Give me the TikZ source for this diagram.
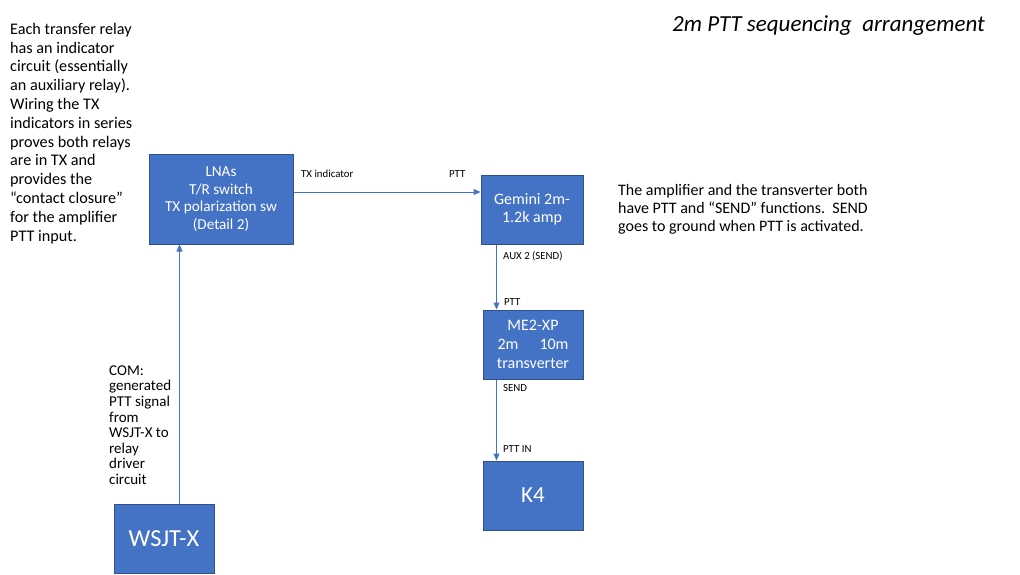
\documentclass[tikz,border=0pt]{standalone}
\usepackage{fontspec}
\setmainfont{Carlito}
\usetikzlibrary{arrows.meta}
\definecolor{boxfill}{HTML}{4472C4}
\definecolor{boxline}{HTML}{2F528F}
\definecolor{wire}{HTML}{4472C4}
\begin{document}
\begin{tikzpicture}[x=1pt,y=-1pt,
  box/.style={draw=boxline, fill=boxfill, line width=1pt, text=white, align=center, inner sep=0pt},
  conn/.style={draw=wire, line width=1pt, -{Triangle[length=7pt,width=6pt]}},
  lbl/.style={anchor=base west, inner sep=0pt, font=\fontsize{10.8}{12}\selectfont},
  note/.style={anchor=north west, inner sep=0pt, align=left}]
\useasboundingbox (0,0) rectangle (1020,574);
\fill[white] (0,0) rectangle (1020,574);

% boxes
\node[box, minimum width=144pt, minimum height=90pt, font=\fontsize{15.2}{17.6}\selectfont] (lna) at (221,199)
  {LNAs\\T/R switch\\TX polarization sw\\(Detail 2)};
\node[box, minimum width=102pt, minimum height=69pt, font=\fontsize{16}{18.5}\selectfont] (gem) at (532,209.5)
  {Gemini 2m-\\1.2k amp};
\node[box, minimum width=100pt, minimum height=69pt, font=\fontsize{16}{19}\selectfont] (me) at (533,344.5)
  {ME2-XP\\\makebox[71pt]{2m\hfill10m}\\transverter};
\node[box, minimum width=100pt, minimum height=69pt, font=\fontsize{23}{24}\selectfont] (k4) at (533,495.5) {K4};
\node[box, minimum width=100pt, minimum height=69pt, font=\fontsize{24.4}{26}\selectfont] (wsjt) at (164,538.5) {WSJT-X};

% connectors
\draw[conn] ([yshift=7pt]lna.east) -- ([yshift=7pt]lna.east -| gem.west);
\draw[conn] ([xshift=16pt]gem.south west) -- ([xshift=16pt]gem.south west |- me.north);
\draw[conn] ([xshift=14pt]me.south west) -- ([xshift=14pt]me.south west |- k4.north);
\draw[conn] ([xshift=66pt]wsjt.north west) -- ([xshift=66pt]wsjt.north west |- lna.south);

% connector labels
\node[lbl] (l1) at (301,177.7) {TX indicator};
\node[lbl] (l2) at (449,177.7) {PTT};
\node[lbl] (l3) at (503,259) {AUX 2 (SEND)};
\node[lbl] (l4) at (504,305.7) {PTT};
\node[lbl] (l5) at (503,391.7) {SEND};
\node[lbl] (l6) at (503,452.7) {PTT IN};

% notes
\node[note, font=\fontsize{16.2}{18.8}\selectfont] (n1) at (10,21)
  {\rule{0pt}{13pt}Each transfer relay\\has an indicator\\circuit (essentially\\an auxiliary relay).\\Wiring the TX\\indicators in series\\proves both relays\\are in TX and\\provides the\\“contact closure”\\for the amplifier\\PTT input.};
\node[note, font=\fontsize{16}{18}\selectfont] (n2) at (618,182)
  {\rule{0pt}{13pt}The amplifier and the transverter both\\have PTT and “SEND” functions.\ \ SEND\\goes to ground when PTT is activated.};
\node[note, font=\fontsize{15}{15.6}\selectfont] (n3) at (109,363)
  {\rule{0pt}{12pt}COM:\\generated\\PTT signal\\from\\WSJT-X to\\relay\\driver\\circuit};

% title
\node[anchor=base west, inner sep=0pt, font=\fontsize{23}{26}\itshape] (title) at (672,31)
  {2m PTT sequencing\ \ arrangement};
\end{tikzpicture}
\end{document}
